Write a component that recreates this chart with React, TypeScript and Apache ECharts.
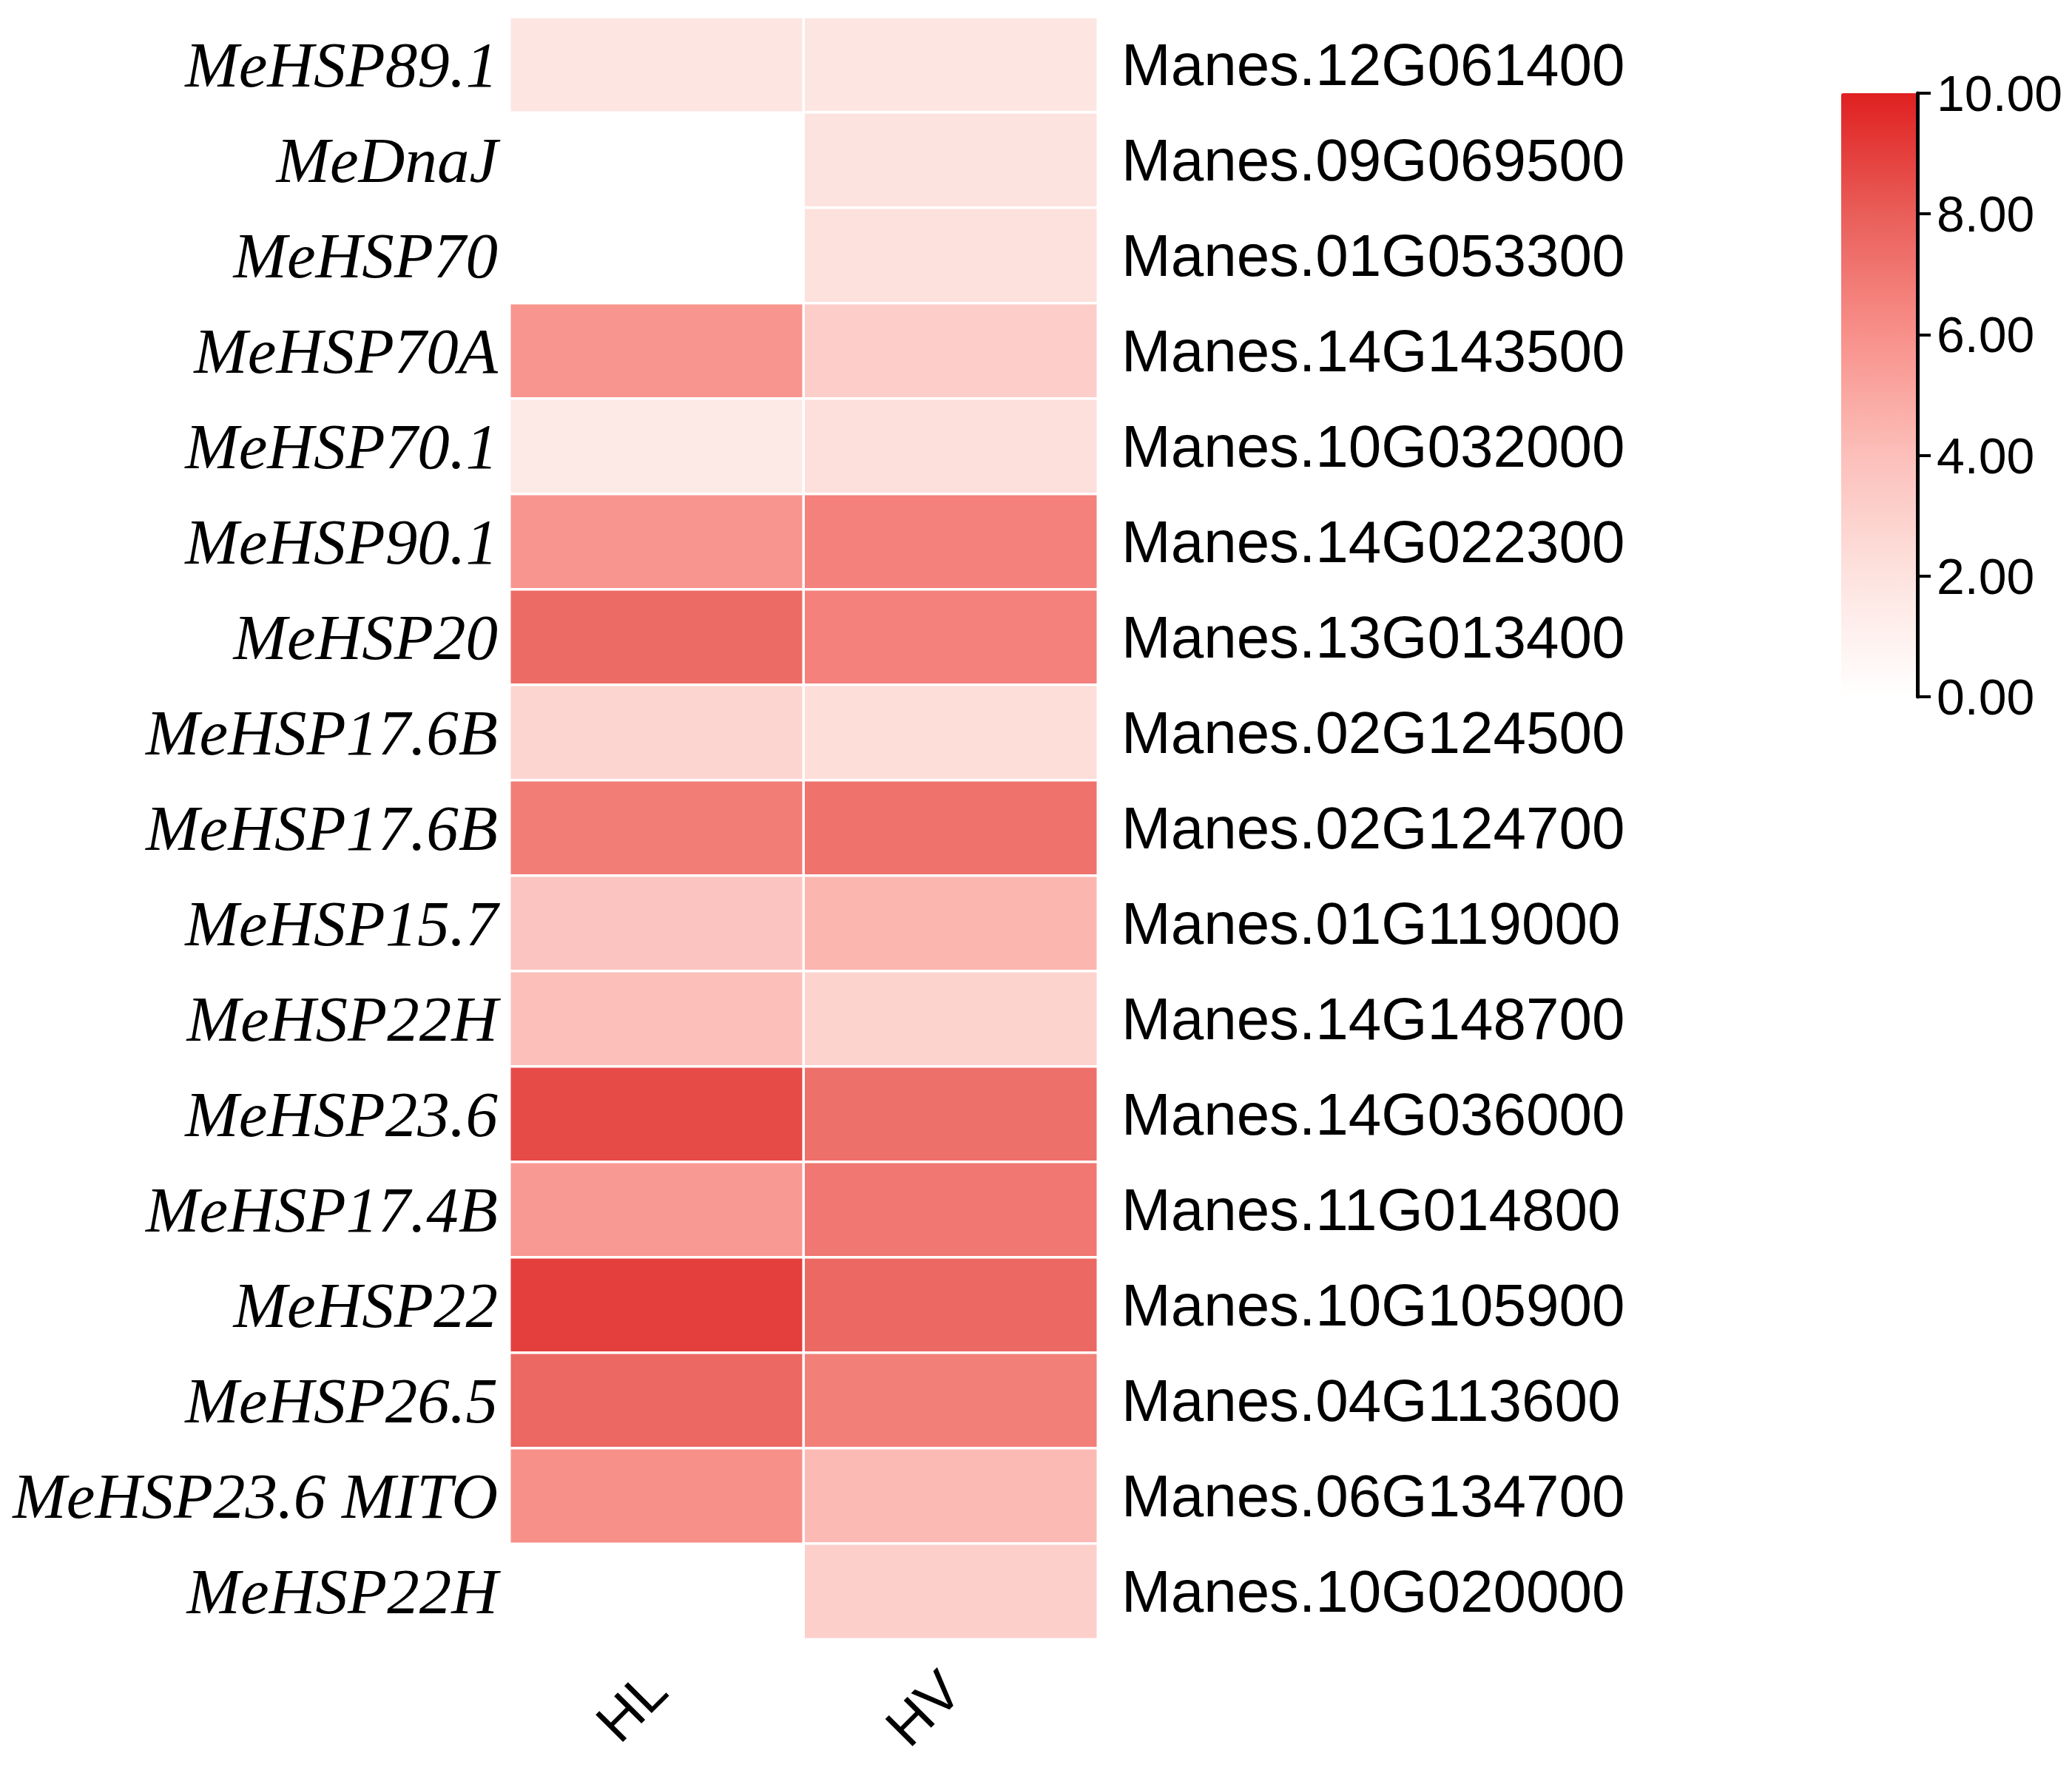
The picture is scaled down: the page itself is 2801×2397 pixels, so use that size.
import React, { useEffect, useRef } from 'react';
import * as echarts from 'echarts';

const conditions = ['HL', 'HV'];
const geneNames = [
  'MeHSP89.1', 'MeDnaJ', 'MeHSP70', 'MeHSP70A', 'MeHSP70.1', 'MeHSP90.1', 'MeHSP20',
  'MeHSP17.6B', 'MeHSP17.6B', 'MeHSP15.7', 'MeHSP22H', 'MeHSP23.6', 'MeHSP17.4B',
  'MeHSP22', 'MeHSP26.5', 'MeHSP23.6 MITO', 'MeHSP22H',
];
const geneIds = [
  'Manes.12G061400', 'Manes.09G069500', 'Manes.01G053300', 'Manes.14G143500',
  'Manes.10G032000', 'Manes.14G022300', 'Manes.13G013400', 'Manes.02G124500',
  'Manes.02G124700', 'Manes.01G119000', 'Manes.14G148700', 'Manes.14G036000',
  'Manes.11G014800', 'Manes.10G105900', 'Manes.04G113600', 'Manes.06G134700',
  'Manes.10G020000',
];
const hlValues: (number | null)[] = [
  1.8, null, null, 5.8, 1.6, 5.8, 7.5, 2.8, 6.8, 3.7, 4.0, 8.6, 5.6, 9.0, 7.6, 6.0, null,
];
const hvValues: (number | null)[] = [
  1.8, 2.0, 2.1, 3.2, 2.2, 6.6, 6.6, 2.3, 7.2, 4.4, 2.9, 7.3, 7.0, 7.6, 6.7, 4.2, 3.1,
];
const scaleMin = 0;
const scaleMax = 10;
const scaleStep = 2;
const scaleColors = ['#ffffff', '#fde3df', '#fcbfba', '#f8908a', '#e95e59', '#df2020'];

export default function App() {
  const ref = useRef<HTMLDivElement>(null);
  useEffect(() => {
    document.body.style.margin = '0';
    if (!ref.current) return;
    const chart = echarts.init(ref.current, null, { renderer: 'svg' });
    const data: [number, number, number][] = [];
    geneNames.forEach((_, i) => {
      if (hlValues[i] !== null) data.push([0, i, hlValues[i] as number]);
      if (hvValues[i] !== null) data.push([1, i, hvValues[i] as number]);
    });
    chart.setOption({
      animation: false,
      backgroundColor: '#ffffff',
      grid: [
        { left: 689, top: 23, width: 795, height: 2193 },
        { left: 2592, top: 126, width: 4, height: 816 },
      ],
      xAxis: [
        {
          type: 'category',
          gridIndex: 0,
          data: conditions,
          position: 'bottom',
          axisLine: { show: false },
          axisTick: { show: false },
          splitLine: { show: false },
          axisLabel: {
            rotate: 45,
            fontSize: 76,
            fontFamily: 'Liberation Sans, Arial, sans-serif',
            color: '#000',
            margin: 56,
          },
        },
        { type: 'value', gridIndex: 1, show: false, min: 0, max: 1 },
      ],
      yAxis: [
        {
          type: 'category',
          gridIndex: 0,
          data: geneNames,
          inverse: true,
          position: 'left',
          axisLine: { show: false },
          axisTick: { show: false },
          splitLine: { show: false },
          axisLabel: {
            fontSize: 87,
            fontStyle: 'italic',
            fontFamily: 'Liberation Serif, Times New Roman, serif',
            color: '#000',
            margin: 16,
          },
        },
        {
          type: 'category',
          gridIndex: 0,
          data: geneIds,
          inverse: true,
          position: 'right',
          axisLine: { show: false },
          axisTick: { show: false },
          splitLine: { show: false },
          axisLabel: {
            fontSize: 80,
            fontFamily: 'Liberation Sans, Arial, sans-serif',
            color: '#000',
            margin: 32,
          },
        },
        {
          type: 'value',
          gridIndex: 1,
          min: scaleMin,
          max: scaleMax,
          interval: scaleStep,
          position: 'right',
          z: 10,
          axisLine: { show: true, lineStyle: { color: '#000', width: 5 } },
          axisTick: { show: true, length: 18, lineStyle: { color: '#000', width: 4 } },
          splitLine: { show: false },
          axisLabel: {
            fontSize: 68,
            fontFamily: 'Liberation Sans, Arial, sans-serif',
            color: '#000',
            margin: 22,
            formatter: (v: number) => v.toFixed(2),
          },
        },
      ],
      visualMap: {
        type: 'continuous',
        min: scaleMin,
        max: scaleMax,
        seriesIndex: 0,
        left: 2489,
        top: 126,
        itemWidth: 103,
        itemHeight: 816,
        padding: 0,
        z: 2,
        calculable: false,
        hoverLink: false,
        text: ['', ''],
        inRange: { color: scaleColors },
      },
      series: [
        {
          type: 'heatmap',
          xAxisIndex: 0,
          yAxisIndex: 0,
          data,
          itemStyle: { borderColor: '#ffffff', borderWidth: 3.5 },
          emphasis: { disabled: true },
        },
      ],
    });
    return () => chart.dispose();
  }, []);
  return <div ref={ref} style={{ width: 2801, height: 2397 }} />;
}
